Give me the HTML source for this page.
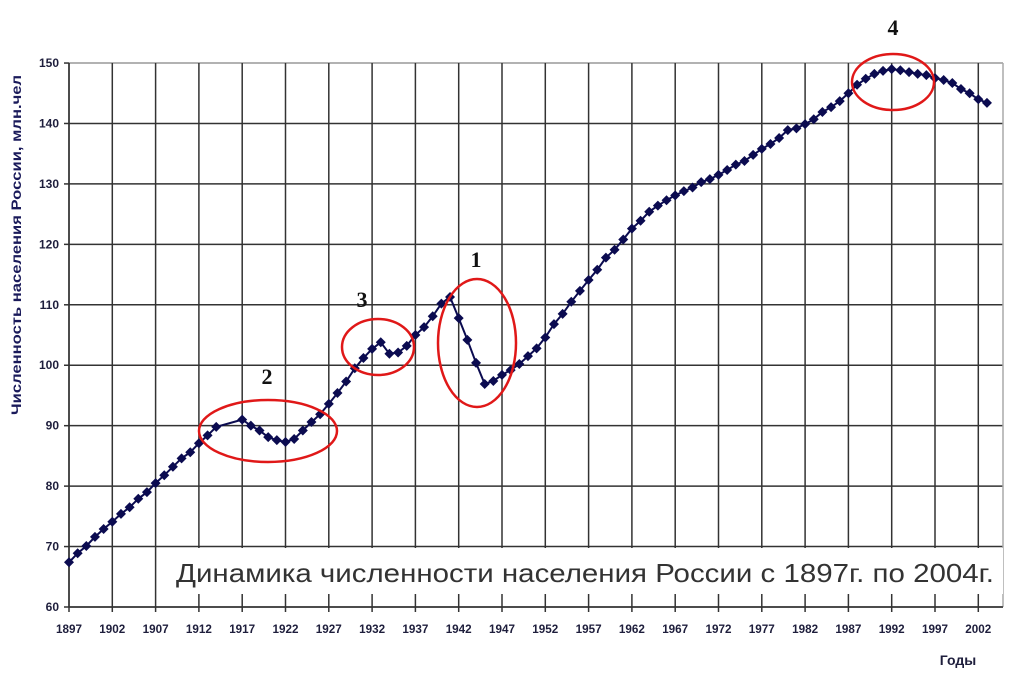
<!DOCTYPE html>
<html><head><meta charset="utf-8">
<style>
html,body{margin:0;padding:0;background:#fff;}
svg{display:block;}
.tick{font-family:"Liberation Sans",sans-serif;font-weight:bold;font-size:12px;fill:#1e1e3c;}
</style></head>
<body>
<svg id="chart" width="1013" height="679" viewBox="0 0 1013 679">
<g id="grid"></g>
<rect x="165" y="548" width="838" height="46" fill="#fff"/>
<text x="585" y="582" text-anchor="middle" font-family="Liberation Sans, sans-serif" font-size="26" fill="#333" textLength="818" lengthAdjust="spacingAndGlyphs">Динамика численности населения России с 1897г. по 2004г.</text>
<g id="axes"></g>
<g id="series"></g>
<text transform="translate(21,245) rotate(-90)" text-anchor="middle" font-family="Liberation Sans, sans-serif" font-weight="bold" font-size="14" fill="#1a1a5a" textLength="340" lengthAdjust="spacingAndGlyphs">Численность населения России, млн.чел</text>
<text x="958" y="665" text-anchor="middle" font-family="Liberation Sans, sans-serif" font-weight="bold" font-size="14" fill="#1e1e3c">Годы</text>
<g fill="none" stroke="#e01818" stroke-width="2.5">
<ellipse cx="268" cy="431" rx="69" ry="31"/>
<ellipse cx="378" cy="347" rx="36" ry="28"/>
<ellipse cx="477" cy="343" rx="39" ry="64"/>
<ellipse cx="893" cy="82" rx="41" ry="28"/>
</g>
<g font-family="Liberation Serif, serif" font-weight="bold" font-size="22" fill="#111" text-anchor="middle">
<text x="267" y="384">2</text>
<text x="362" y="307">3</text>
<text x="476" y="267">1</text>
<text x="893" y="35">4</text>
</g>
</svg>
<script>
const years = [1897,1898,1899,1900,1901,1902,1903,1904,1905,1906,1907,1908,1909,1910,1911,1912,1913,1914,1917,1918,1919,1920,1921,1922,1923,1924,1925,1926,1927,1928,1929,1930,1931,1932,1933,1934,1935,1936,1937,1938,1939,1940,1941,1942,1943,1944,1945,1946,1947,1948,1949,1950,1951,1952,1953,1954,1955,1956,1957,1958,1959,1960,1961,1962,1963,1964,1965,1966,1967,1968,1969,1970,1971,1972,1973,1974,1975,1976,1977,1978,1979,1980,1981,1982,1983,1984,1985,1986,1987,1988,1989,1990,1991,1992,1993,1994,1995,1996,1997,1998,1999,2000,2001,2002,2003];
const population = [67.4,68.9,70.1,71.6,72.9,74.1,75.4,76.5,77.9,79.0,80.5,81.8,83.2,84.6,85.6,87.1,88.4,89.8,91.0,90.0,89.2,88.1,87.6,87.3,87.8,89.2,90.6,91.9,93.6,95.4,97.3,99.5,101.2,102.7,103.8,101.9,102.1,103.2,105.0,106.3,108.1,110.2,111.3,107.8,104.2,100.4,96.9,97.4,98.4,99.2,100.2,101.5,102.8,104.6,106.8,108.5,110.5,112.3,114.1,115.8,117.8,119.1,120.8,122.6,123.9,125.4,126.4,127.3,128.1,128.8,129.4,130.3,130.8,131.5,132.3,133.2,133.8,134.8,135.8,136.6,137.6,138.9,139.2,139.9,140.7,141.9,142.7,143.7,145.0,146.4,147.4,148.2,148.7,149.0,148.8,148.5,148.2,148.0,147.5,147.2,146.7,145.7,145.0,144.0,143.4];
const xTicks = [1897,1902,1907,1912,1917,1922,1927,1932,1937,1942,1947,1952,1957,1962,1967,1972,1977,1982,1987,1992,1997,2002];
const yTicks = [60,70,80,90,100,110,120,130,140,150];

const NS = "http://www.w3.org/2000/svg";
const X0 = 69, PXY = 8.66, Y0 = 607, PXV = 6.044, RIGHT = 1003;
function xs(yr){ return X0 + (yr - 1897) * PXY; }
function ys(v){ return Y0 - (v - 60) * PXV; }
function mk(tag, attrs, parent){ const e = document.createElementNS(NS, tag); for (const k in attrs) e.setAttribute(k, attrs[k]); parent.appendChild(e); return e; }

const grid = document.getElementById('grid');
const axes = document.getElementById('axes');
yTicks.forEach(v => {
  const l = mk('line', {x1: X0, x2: RIGHT, y1: ys(v), y2: ys(v), stroke: v === 150 ? '#999' : '#333', 'stroke-width': 1.5}, grid);
  
  
  const t = mk('text', {x: X0 - 10, y: ys(v) + 4, 'text-anchor': 'end', class: 'tick'}, axes);
  t.textContent = v;
  
  
  const tk = mk('line', {x1: X0 - 5, x2: X0, y1: ys(v), y2: ys(v), stroke: '#333', 'stroke-width': 1.5}, axes);
  
  
});
xTicks.forEach(yr => {
  const l = mk('line', {x1: xs(yr), x2: xs(yr), y1: ys(150), y2: Y0 + 5, stroke: '#333', 'stroke-width': 1.5}, grid);
  
  
  const t = mk('text', {x: xs(yr), y: 633, 'text-anchor': 'middle', class: 'tick', textLength: 26, lengthAdjust: 'spacingAndGlyphs'}, axes);
  t.textContent = yr;
  
  
});
const rb = mk('line', {x1: RIGHT, x2: RIGHT, y1: ys(150), y2: Y0, stroke: '#aaa', 'stroke-width': 1.5}, grid);


const xa = mk('line', {x1: X0, x2: RIGHT, y1: Y0, y2: Y0, stroke: '#333', 'stroke-width': 1.5}, axes);


const ya = mk('line', {x1: X0, x2: X0, y1: ys(150), y2: Y0, stroke: '#333', 'stroke-width': 1.5}, axes);



const series = document.getElementById('series');
const pts = years.map((yr, i) => xs(yr).toFixed(1) + ',' + ys(population[i]).toFixed(1)).join(' ');
const pl = mk('polyline', {points: pts, fill: 'none', stroke: '#0b0b50', 'stroke-width': 2}, series);


years.forEach((yr, i) => {
  const cx = xs(yr), cy = ys(population[i]), r = 5;
  const p = mk('polygon', {points: `${cx},${cy - r} ${cx + r},${cy} ${cx},${cy + r} ${cx - r},${cy}`, fill: '#0b0b50'}, series);
  
  
});
</script>
</body></html>
